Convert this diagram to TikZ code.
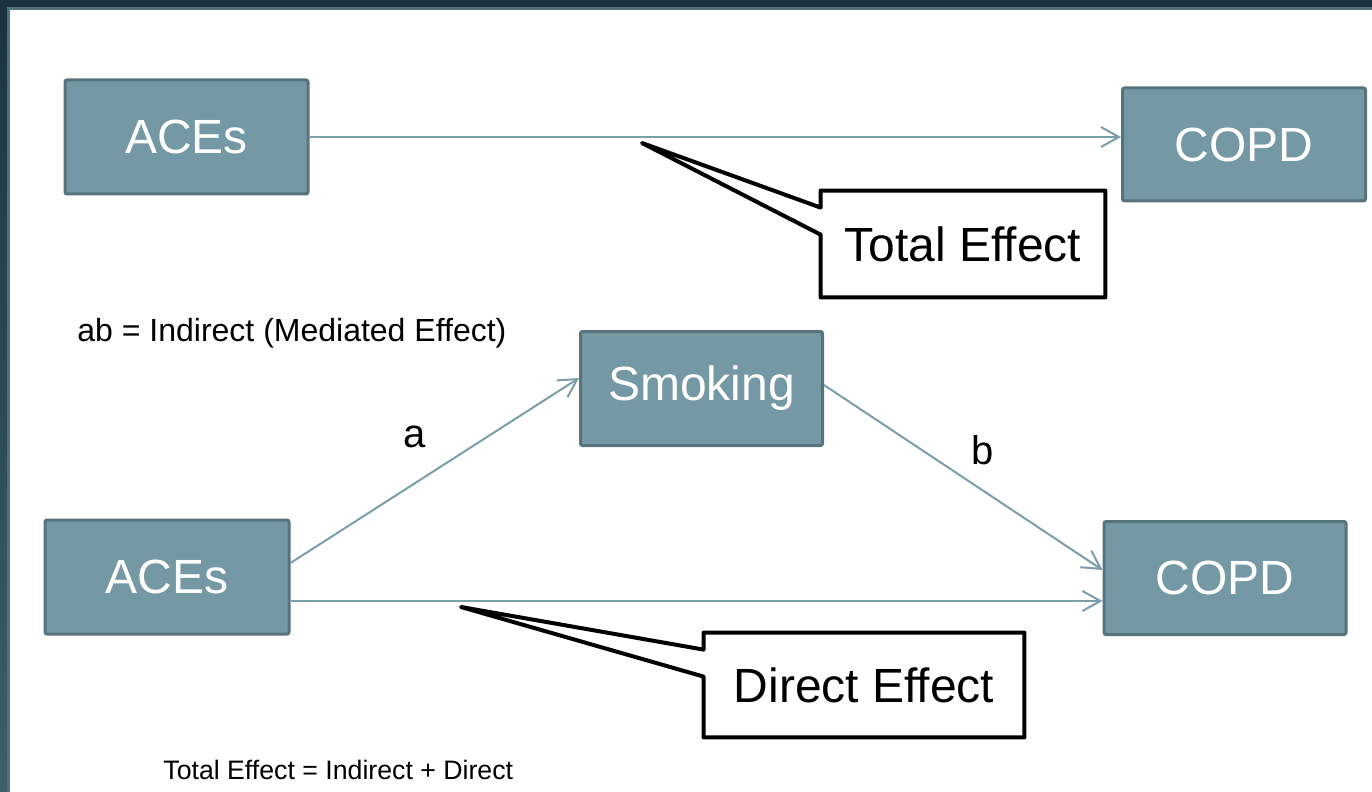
\documentclass[tikz,border=0pt]{standalone}
\usepackage{fontspec}
\setmainfont{Liberation Sans}
\usetikzlibrary{arrows.meta}

\definecolor{boxfill}{RGB}{117,153,164}
\definecolor{boxline}{RGB}{87,116,125}
\definecolor{linkc}{RGB}{122,158,170}
\definecolor{frametop}{RGB}{27,51,64}
\definecolor{framebot}{RGB}{62,94,107}
\definecolor{framegrey}{RGB}{82,112,122}

\tikzset{
  varbox/.style={draw=boxline, fill=boxfill, line width=1.5pt, rounded corners=1pt,
    text=white, inner sep=0pt, font=\fontsize{24}{29}\selectfont},
  effectlink/.style={draw=linkc, line width=1pt, -{Straight Barb[length=9pt,width=10pt]}},
  calloutbox/.style={inner sep=0pt, font=\fontsize{24}{29}\selectfont},
  calloutline/.style={draw=black, fill=white, line width=2pt, line join=round},
  pathlabel/.style={inner sep=0pt, font=\fontsize{20}{24}\selectfont},
  notetext/.style={anchor=west, inner sep=0pt}
}

\begin{document}
\begin{tikzpicture}[x=0.5pt,y=0.5pt,yscale=-1]
\useasboundingbox (0,0) rectangle (1372,792);

%Frame
\fill[white] (0,0) rectangle (1372,792);
\fill[frametop] (0,0) rectangle (1372,7);
\shade[top color=frametop, bottom color=framebot] (0,0) rectangle (7,792);
\fill[framegrey] (7,7) rectangle (1372,10);
\fill[framegrey] (7,7) rectangle (10,792);

%Total effect model
\node[varbox, minimum width=121.5pt, minimum height=57pt] (aces1) at (186.5,137) {ACEs};
\node[varbox, minimum width=121.5pt, minimum height=56.5pt] (copd1) at (1244,144.5) {COPD};
\draw[effectlink] (aces1.east) -- (aces1.east -| copd1.west);

%Mediation model
\node[varbox, minimum width=121pt, minimum height=57pt] (smoke) at (701.5,388.5) {Smoking};
\node[varbox, minimum width=122pt, minimum height=57pt] (aces2) at (167,577) {ACEs};
\node[varbox, minimum width=121pt, minimum height=56.5pt] (copd2) at (1225,578) {COPD};
\draw[effectlink] ([yshift=-7pt]aces2.east) -- ([yshift=-5.25pt]smoke.west);
\draw[effectlink] ([yshift=-1.75pt]smoke.east) -- ([yshift=-4pt]copd2.west);
\draw[effectlink] ([yshift=12pt]aces2.east) -- ([yshift=12pt]aces2.east -| copd2.west);

% Text Node
\node[pathlabel] (alab) at (415,437) {a};
% Text Node
\node[pathlabel] (blab) at (983,450) {b};

%Callout: total effect
\coordinate (tip1) at (642,143);
\node[calloutbox, minimum width=142pt, minimum height=53pt] (total) at (963,244) {};
\draw[calloutline] (total.north west) -- (total.north east) -- (total.south east)
  -- (total.south west) -- ([yshift=22pt]total.north west) -- (tip1)
  -- ([yshift=8.5pt]total.north west) -- cycle;
\node[calloutbox] at (total) {Total Effect};

%Callout: direct effect
\coordinate (tip2) at (461,607);
\node[calloutbox, minimum width=160pt, minimum height=52pt] (direct) at (864,685) {};
\draw[calloutline] (direct.north west) -- (direct.north east) -- (direct.south east)
  -- (direct.south west) -- ([yshift=22pt]direct.north west) -- (tip2)
  -- ([yshift=8.5pt]direct.north west) -- cycle;
\node[calloutbox] at (direct) {Direct Effect};

% Text Node
\node[notetext, font=\fontsize{16}{19}\selectfont] (abnote) at (77,333) {ab = Indirect (Mediated Effect)};
% Text Node
\node[notetext, font=\fontsize{13.35}{16}\selectfont] (sumnote) at (163,770) {Total Effect = Indirect + Direct};
\end{tikzpicture}
\end{document}
